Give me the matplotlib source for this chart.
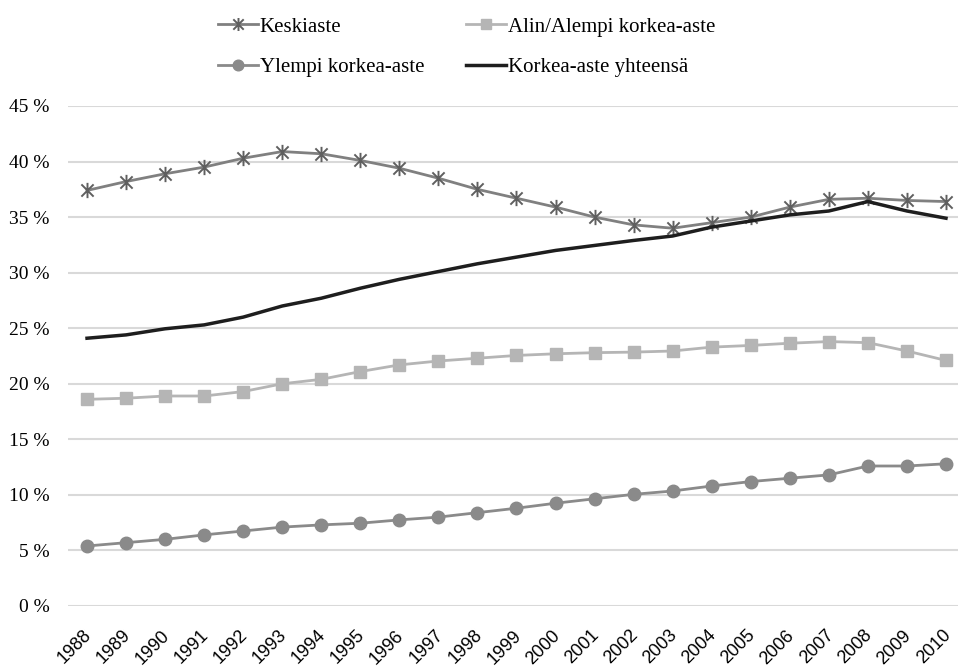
import numpy as np
import matplotlib
matplotlib.use("Agg")
from matplotlib import pyplot as plt
from matplotlib.path import Path
from matplotlib.transforms import ScaledTranslation

# vuodet ja sarjat (%)
vuodet = [str(v) for v in range(1988, 2011)]
keskiaste = [37.4, 38.2, 38.9, 39.5, 40.3, 40.9, 40.7, 40.1, 39.4, 38.5, 37.5, 36.7,
             35.9, 35.0, 34.3, 34.0, 34.5, 35.0, 35.9, 36.6, 36.7, 36.5, 36.4]
alin_alempi = [18.6, 18.7, 18.9, 18.9, 19.3, 20.0, 20.4, 21.1, 21.7, 22.05, 22.3, 22.55,
               22.7, 22.8, 22.85, 22.95, 23.3, 23.45, 23.65, 23.8, 23.7, 22.95, 22.1]
ylempi = [5.4, 5.7, 6.0, 6.4, 6.75, 7.1, 7.3, 7.45, 7.75, 8.0, 8.4, 8.8,
          9.25, 9.65, 10.05, 10.35, 10.8, 11.2, 11.5, 11.8, 12.6, 12.6, 12.8]
korkea_yht = [24.1, 24.4, 24.95, 25.3, 26.0, 27.0, 27.7, 28.6, 29.4, 30.1, 30.8, 31.4,
              32.0, 32.45, 32.9, 33.3, 34.1, 34.65, 35.2, 35.55, 36.4, 35.55, 34.9]
yticks = [0, 5, 10, 15, 20, 25, 30, 35, 40, 45]

# tähti-merkki: X + pystyviiva
tahti = Path([(-1, -1), (1, 1), (-1, 1), (1, -1), (0, -1.25), (0, 1.25)],
             [Path.MOVETO, Path.LINETO, Path.MOVETO, Path.LINETO, Path.MOVETO, Path.LINETO])

fig = plt.figure(figsize=(9.58, 6.67), dpi=100)
ax = fig.add_axes([67.5 / 958, 61 / 667, (958 - 67.5) / 958, 500 / 667])

x = np.arange(len(vuodet))
l1, = ax.plot(x, keskiaste, color="#808080", lw=2, marker=tahti, ms=11,
              mec="#5f5f5f", mew=1.4, label="Keskiaste")
l2, = ax.plot(x, alin_alempi, color="#b5b5b5", lw=2, marker="s", ms=9,
              mfc="#b5b5b5", mec="#b5b5b5", label="Alin/Alempi korkea-aste")
l3, = ax.plot(x, ylempi, color="#8a8a8a", lw=2, marker="o", ms=9,
              mfc="#8a8a8a", mec="#8a8a8a", label="Ylempi korkea-aste")
l4, = ax.plot(x, korkea_yht, color="#1e1e1e", lw=2.5, label="Korkea-aste yhteensä")

ax.set_xlim(-0.5, 22.5 - 7.5 / 39.05)
ax.set_ylim(0, 45)
ax.set_yticks(yticks)
ax.set_yticklabels([f"{t} %" for t in yticks], family="Liberation Serif", fontsize=14)
ax.set_xticks(x)
ax.set_xticklabels(vuodet, rotation=45, ha="right", rotation_mode="anchor",
                   family="Liberation Sans", fontsize=13)
ax.tick_params(axis="y", length=0, pad=13)
ax.tick_params(axis="x", length=0, pad=15)
siirto = ScaledTranslation(-4 / 100, 0, fig.dpi_scale_trans)
for t in ax.get_xticklabels():
    t.set_transform(t.get_transform() + siirto)
ax.grid(axis="y", color="#d9d9d9", lw=1.5)
ax.set_axisbelow(True)
for s in ax.spines.values():
    s.set_visible(False)

fig.legend([l1, l3, l2, l4], [l1.get_label(), l3.get_label(), l2.get_label(), l4.get_label()],
           ncol=2, loc="upper center", bbox_to_anchor=(0.487, 1.0), frameon=False,
           prop={"family": "Liberation Serif", "size": 15}, handlelength=1.9,
           handletextpad=0.1, columnspacing=2.0, labelspacing=1.0, markerscale=0.85,
           borderaxespad=0.42)

fig.savefig("out.png", dpi=100)
